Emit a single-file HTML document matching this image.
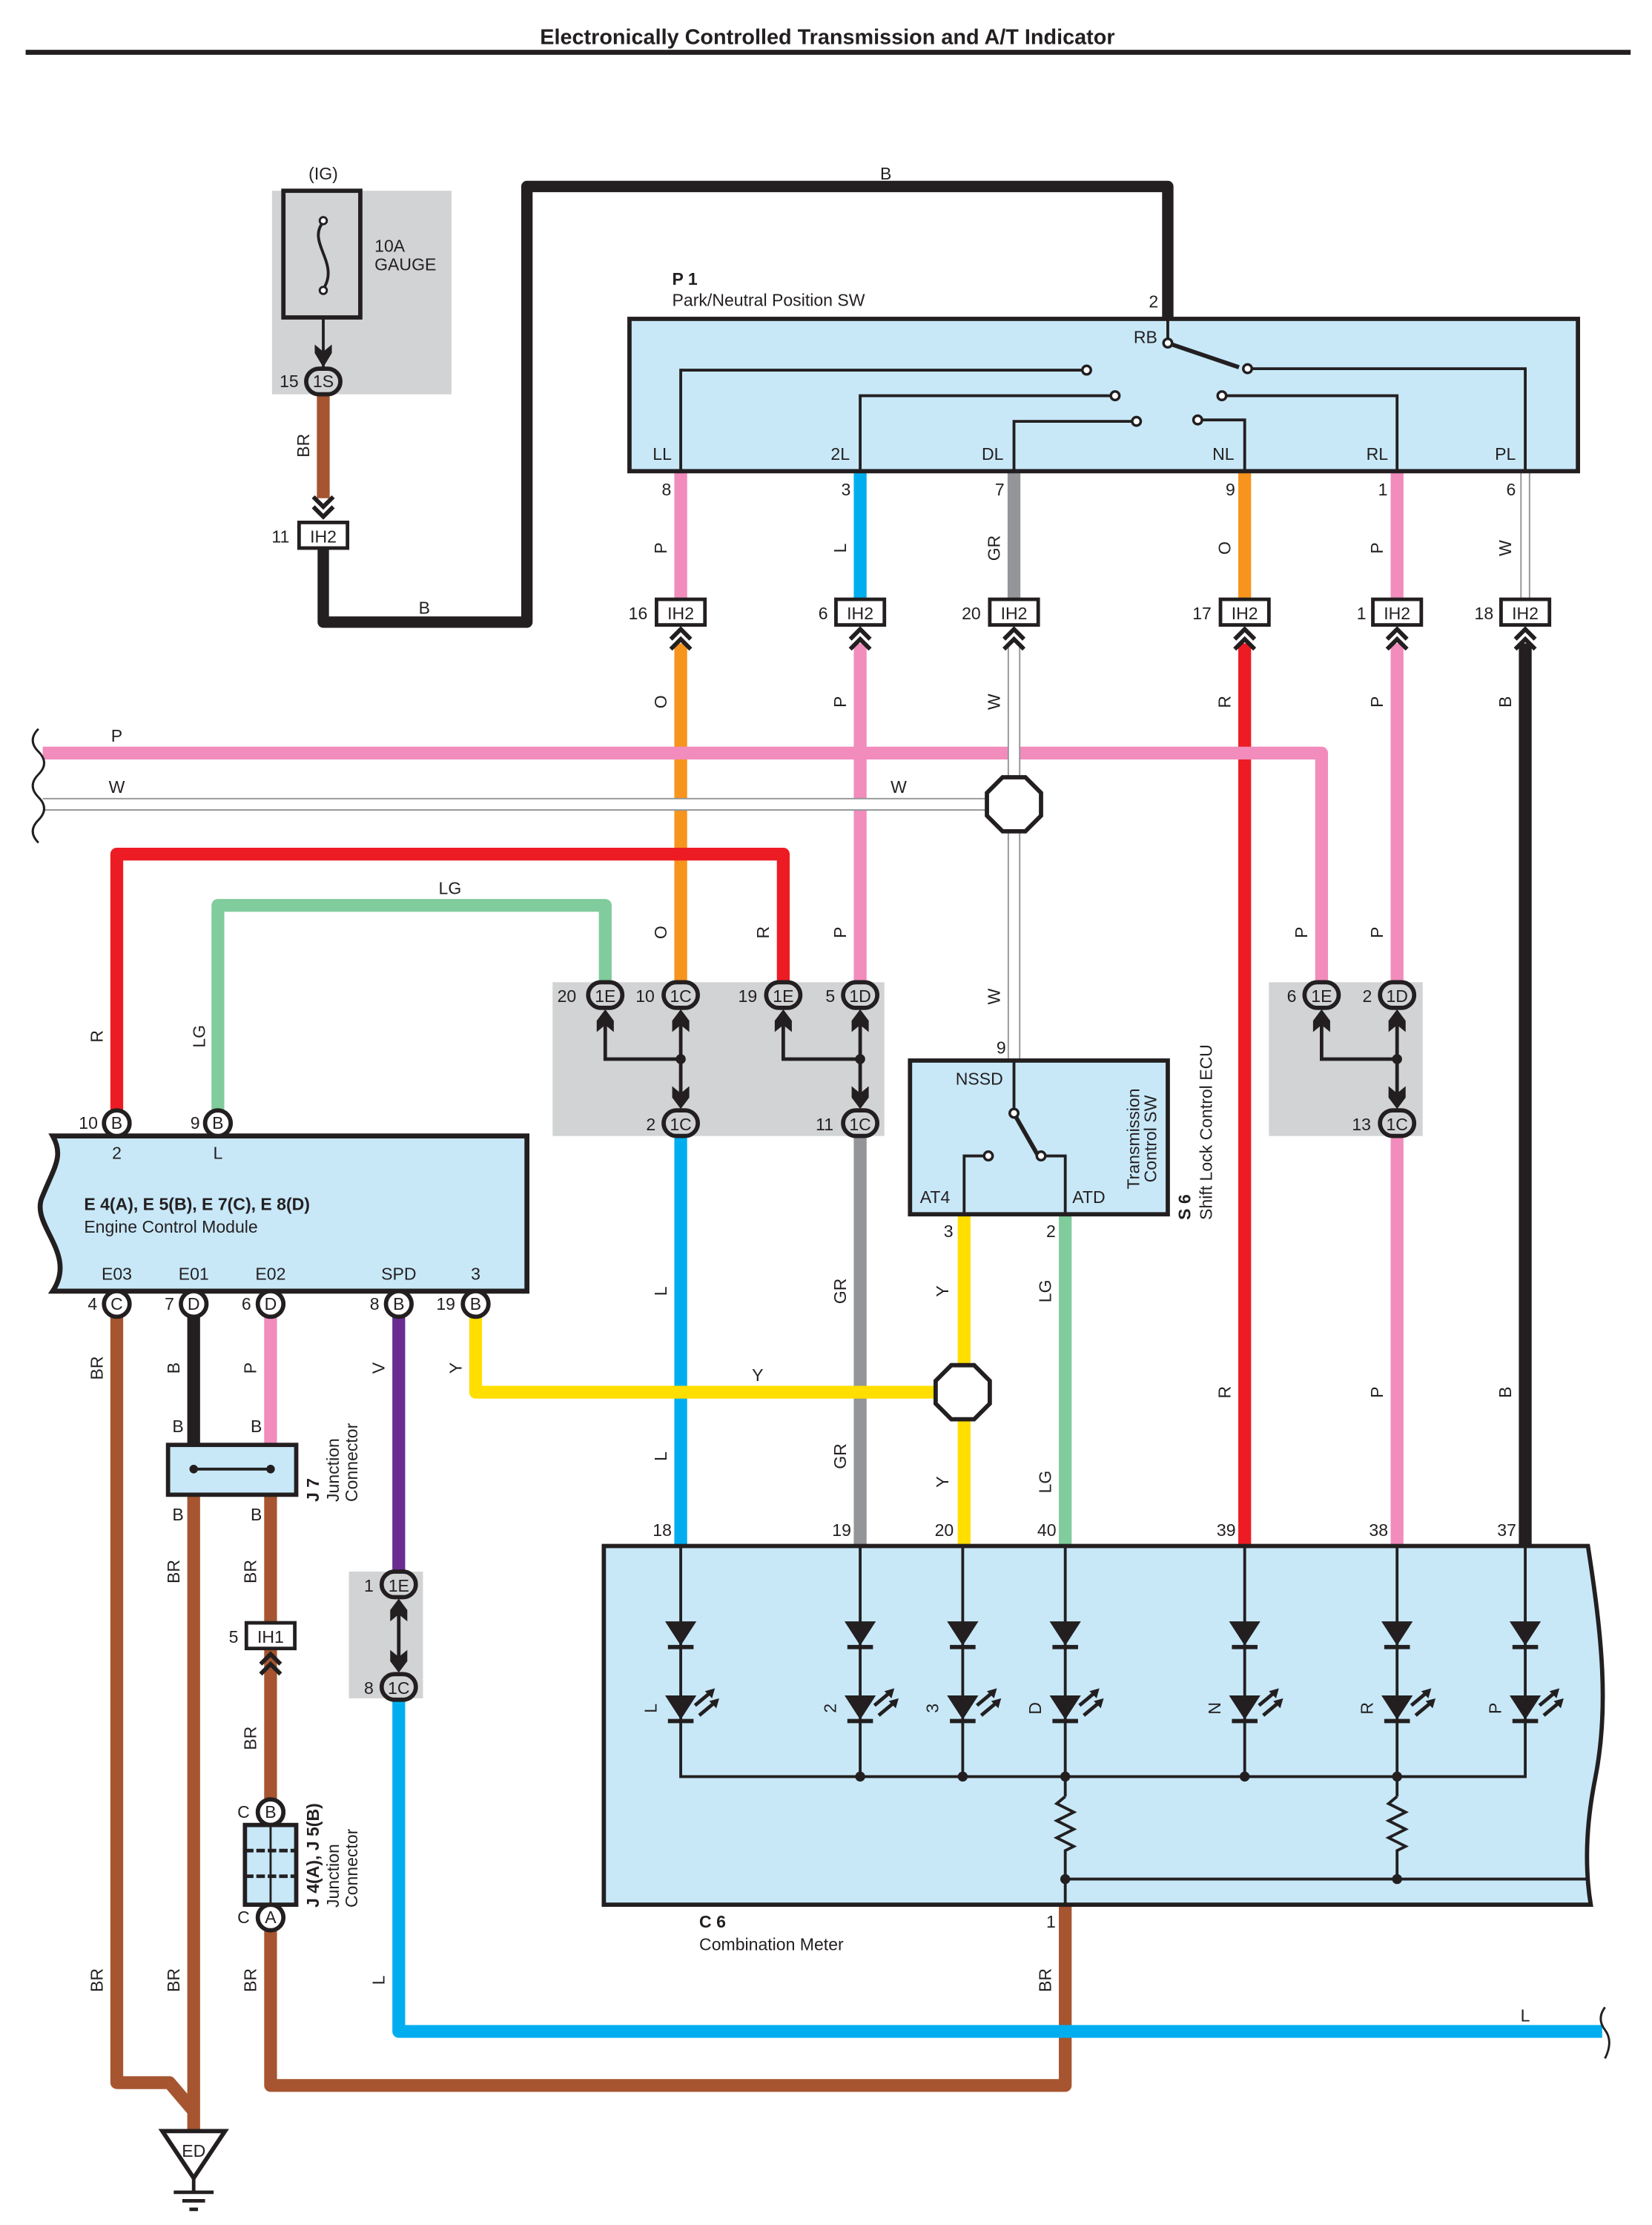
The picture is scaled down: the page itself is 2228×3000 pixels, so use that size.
<!DOCTYPE html>
<html><head><meta charset="utf-8">
<style>
html,body{margin:0;padding:0;background:#fff;}
svg{display:block;}
text{font-family:"Liberation Sans",Arial,sans-serif;fill:#231f20;}
</style></head><body>
<svg xmlns="http://www.w3.org/2000/svg" width="2228" height="3000" viewBox="0 0 1160 1563" preserveAspectRatio="none">
<defs>
<g id="diode"><polygon points="-11,-9 11,-9 0,8" fill="#231f20"/><line x1="-9" y1="9" x2="9" y2="9" stroke="#231f20" stroke-width="3"/></g>
<g id="led"><polygon points="-11,-9 11,-9 0,8" fill="#231f20"/><line x1="-9" y1="9" x2="9" y2="9" stroke="#231f20" stroke-width="3"/>
<path d="M10,-2 L22,-12 M13,5 L25,-5" stroke="#231f20" stroke-width="2.5"/><polygon points="24,-14 17,-12 22,-7" fill="#231f20"/><polygon points="27,-7 20,-5 25,0" fill="#231f20"/></g>
<path id="chd" d="M-7,-16 L0,-9 L7,-16 M-7,-9 L0,-2 L7,-9" fill="none" stroke="#231f20" stroke-width="3"/>
<path id="chu" d="M-7,16 L0,9 L7,16 M-7,9 L0,2 L7,9" fill="none" stroke="#231f20" stroke-width="3"/>
<polygon id="ahu" points="0,0 -6,8 -6,16 0,11 6,16 6,8" fill="#231f20"/>
<polygon id="ahd" points="0,0 -6,-8 -6,-16 0,-11 6,-16 6,-8" fill="#231f20"/>
</defs>

<!-- title -->
<text x="581" y="31" text-anchor="middle" font-size="15" font-weight="bold">Electronically Controlled Transmission and A/T Indicator</text>
<rect x="18" y="35" width="1127" height="3.5" fill="#231f20"/>

<!-- gray boxes -->
<rect x="191" y="134" width="126" height="143" fill="#d1d3d4"/>
<rect x="388" y="690" width="233" height="108" fill="#d1d3d4"/>
<rect x="891" y="690" width="108" height="108" fill="#d1d3d4"/>
<rect x="245" y="1104" width="52" height="89" fill="#d1d3d4"/>

<!-- fuse -->
<text x="227" y="126" text-anchor="middle" font-size="12">(IG)</text>
<rect x="199" y="134" width="54" height="89" fill="none" stroke="#231f20" stroke-width="3"/>
<path d="M227,156 C215,170 239,185 227,203" fill="none" stroke="#231f20" stroke-width="2"/>
<circle cx="227" cy="155" r="2.5" fill="#fff" stroke="#231f20" stroke-width="1.5"/>
<circle cx="227" cy="204" r="2.5" fill="#fff" stroke="#231f20" stroke-width="1.5"/>
<text x="263" y="177" font-size="12">10A</text><text x="263" y="190" font-size="12">GAUGE</text>
<line x1="227" y1="223" x2="227" y2="258" stroke="#231f20" stroke-width="2"/>
<polygon points="227,258 221,248 221,242 227,247 233,242 233,248" fill="#231f20"/>

<!-- wires -->
<g fill="none" stroke-linejoin="round" stroke-width="9">
<path d="M227,277 V350" stroke="#a65530"/>
<path d="M227,386 V437 H370 V131 H820 V224" stroke="#231f20" stroke-width="8"/>
<path d="M478,331 V420" stroke="#f18cbc"/>
<path d="M604,331 V420" stroke="#00aeef"/>
<path d="M712,331 V420" stroke="#939598"/>
<path d="M874,331 V420" stroke="#f7941d"/>
<path d="M981,331 V420" stroke="#f18cbc"/>
<path d="M478,452 V690" stroke="#f7941d"/>
<path d="M604,452 V690" stroke="#f18cbc"/>
<path d="M874,452 V1086" stroke="#ed1c24"/>
<path d="M981,452 V690" stroke="#f18cbc"/>
<path d="M1071,452 V1086" stroke="#231f20"/>
<path d="M30,529 H928 V690" stroke="#f18cbc"/>
<path d="M82,780 V600 H550 V690" stroke="#ed1c24"/>
<path d="M153,780 V636 H425 V690" stroke="#80cc9c"/>
<path d="M478,798 V1086" stroke="#00aeef"/>
<path d="M604,798 V1086" stroke="#939598"/>
<path d="M981,798 V1086" stroke="#f18cbc"/>
<path d="M334,925 V978 H660" stroke="#ffde00"/>
<path d="M677,853 V960 M677,996 V1086" stroke="#ffde00"/>
<path d="M748,853 V1086" stroke="#80cc9c"/>
<path d="M82,925 V1463 H119 L136,1483" stroke="#a65530"/>
<path d="M136,925 V1017" stroke="#231f20"/>
<path d="M136,1050 V1497" stroke="#a65530"/>
<path d="M190,925 V1015" stroke="#f18cbc"/>
<path d="M190,1050 V1140 M190,1158 V1264" stroke="#a65530"/>
<path d="M190,1356 V1465 H748 V1338" stroke="#a65530"/>
<path d="M280,925 V1104" stroke="#6a2c91"/>
<path d="M280,1193 V1427 H1125" stroke="#00aeef"/>
</g>
<!-- white wires -->
<g fill="none">
<path d="M1071,331 V420" stroke="#939598" stroke-width="7"/><path d="M1071,331 V420" stroke="#fff" stroke-width="5"/>
<path d="M30,565 H693" stroke="#939598" stroke-width="9"/><path d="M30,565 H693" stroke="#fff" stroke-width="7"/>
<path d="M712,452 V745" stroke="#939598" stroke-width="9"/><path d="M712,452 V745" stroke="#fff" stroke-width="7"/>
</g>
<!-- wavy ends -->
<path d="M30,512 q-8,8 0,16 q8,8 0,16 q-8,8 0,16 q8,8 0,16 q-8,8 0,16" fill="none" stroke="#231f20" stroke-width="1.5" transform="translate(-3,0)"/>
<path d="M1127,1410 q-6,8 0,16 q6,8 0,20" fill="none" stroke="#231f20" stroke-width="1.5"/>

<!-- octagons -->
<polygon points="704,546 720,546 731,557 731,573 720,584 704,584 693,573 693,557" fill="#fff" stroke="#231f20" stroke-width="3"/>
<polygon points="668,959 684,959 695,970 695,986 684,997 668,997 657,986 657,970" fill="#fff" stroke="#231f20" stroke-width="3"/>

<!-- P1 box -->
<rect x="442" y="224" width="666" height="107" fill="#c8e8f8" stroke="#231f20" stroke-width="3"/>
<text x="472" y="200" font-size="12" font-weight="bold">P 1</text>
<text x="472" y="215" font-size="12">Park/Neutral Position SW</text>
<text x="810" y="216" font-size="12" text-anchor="middle">2</text>
<text x="796" y="241" font-size="12">RB</text>
<g fill="none" stroke="#231f20" stroke-width="2">
<path d="M820,224 V240"/><path d="M820,241 L870,258" stroke-width="3"/>
<path d="M478,331 V260 H760"/><path d="M879,259 H1071 V331"/>
<path d="M604,331 V278 H780"/><path d="M861,278 H981 V331"/>
<path d="M712,331 V296 H795"/><path d="M844,295 H874 V331"/>
</g>
<g fill="#fff" stroke="#231f20" stroke-width="1.8">
<circle cx="820" cy="241" r="3"/><circle cx="763" cy="260" r="3"/><circle cx="876" cy="259" r="3"/>
<circle cx="783" cy="278" r="3"/><circle cx="858" cy="278" r="3"/><circle cx="798" cy="296" r="3"/><circle cx="841" cy="295" r="3"/>
</g>
<g font-size="12" text-anchor="middle">
<text x="465" y="323">LL</text><text x="590" y="323">2L</text><text x="697" y="323">DL</text>
<text x="859" y="323">NL</text><text x="967" y="323">RL</text><text x="1057" y="323">PL</text>
<text x="468" y="348">8</text><text x="594" y="348">3</text><text x="702" y="348">7</text>
<text x="864" y="348">9</text><text x="971" y="348">1</text><text x="1061" y="348">6</text>
</g>

<!-- IH2 connectors row -->
<g font-size="12" text-anchor="middle">
<g stroke="#231f20" stroke-width="2.5" fill="#fff">
<rect x="461" y="421" width="34" height="18"/><rect x="587" y="421" width="34" height="18"/><rect x="695" y="421" width="34" height="18"/>
<rect x="857" y="421" width="34" height="18"/><rect x="964" y="421" width="34" height="18"/><rect x="1054" y="421" width="34" height="18"/>
<rect x="210" y="367" width="34" height="18"/>
</g>
<text x="478" y="435">IH2</text><text x="604" y="435">IH2</text><text x="712" y="435">IH2</text>
<text x="874" y="435">IH2</text><text x="981" y="435">IH2</text><text x="1071" y="435">IH2</text><text x="227" y="381">IH2</text>
<text x="448" y="435">16</text><text x="578" y="435">6</text><text x="682" y="435">20</text>
<text x="844" y="435">17</text><text x="956" y="435">1</text><text x="1042" y="435">18</text><text x="197" y="381">11</text>
</g>
<g>
<use href="#chu" x="478" y="440"/><use href="#chu" x="604" y="440"/><use href="#chu" x="712" y="440"/>
<use href="#chu" x="874" y="440"/><use href="#chu" x="981" y="440"/><use href="#chu" x="1071" y="440"/>
<use href="#chd" x="227" y="365"/><use href="#chu" x="190" y="1160"/>
</g>

<!-- oval connectors -->
<g stroke="#231f20" stroke-width="3">
<rect x="215" y="259" width="24" height="18" rx="9" fill="#d1d3d4"/>
<rect x="413" y="690" width="24" height="18" rx="9" fill="#d1d3d4"/>
<rect x="466" y="690" width="24" height="18" rx="9" fill="#d1d3d4"/>
<rect x="538" y="690" width="24" height="18" rx="9" fill="#d1d3d4"/>
<rect x="592" y="690" width="24" height="18" rx="9" fill="#d1d3d4"/>
<rect x="466" y="780" width="24" height="18" rx="9" fill="#d1d3d4"/>
<rect x="592" y="780" width="24" height="18" rx="9" fill="#d1d3d4"/>
<rect x="916" y="690" width="24" height="18" rx="9" fill="#d1d3d4"/>
<rect x="969" y="690" width="24" height="18" rx="9" fill="#d1d3d4"/>
<rect x="969" y="780" width="24" height="18" rx="9" fill="#d1d3d4"/>
<rect x="268" y="1104" width="24" height="18" rx="9" fill="#d1d3d4"/>
<rect x="268" y="1176" width="24" height="18" rx="9" fill="#d1d3d4"/>
</g>
<g font-size="12" text-anchor="middle">
<text x="227" y="272">1S</text><text x="203" y="272">15</text>
<text x="425" y="704">1E</text><text x="398" y="704">20</text>
<text x="478" y="704">1C</text><text x="453" y="704">10</text>
<text x="550" y="704">1E</text><text x="525" y="704">19</text>
<text x="604" y="704">1D</text><text x="583" y="704">5</text>
<text x="478" y="794">1C</text><text x="457" y="794">2</text>
<text x="604" y="794">1C</text><text x="579" y="794">11</text>
<text x="928" y="704">1E</text><text x="907" y="704">6</text>
<text x="981" y="704">1D</text><text x="960" y="704">2</text>
<text x="981" y="794">1C</text><text x="956" y="794">13</text>
<text x="280" y="1118">1E</text><text x="259" y="1118">1</text>
<text x="280" y="1190">1C</text><text x="259" y="1190">8</text>
</g>
<!-- junction internals -->
<g fill="none" stroke="#231f20" stroke-width="2.5">
<path d="M425,712 V744 H478"/><path d="M478,712 V776"/>
<path d="M550,712 V744 H604"/><path d="M604,712 V776"/>
<path d="M928,712 V744 H981"/><path d="M981,712 V776"/>
<path d="M280,1126 V1170"/>
</g>
<g fill="#231f20"><circle cx="478" cy="744" r="3.5"/><circle cx="604" cy="744" r="3.5"/><circle cx="981" cy="744" r="3.5"/></g>
<use href="#ahu" x="425" y="709"/><use href="#ahu" x="478" y="709"/><use href="#ahu" x="550" y="709"/><use href="#ahu" x="604" y="709"/>
<use href="#ahu" x="928" y="709"/><use href="#ahu" x="981" y="709"/>
<use href="#ahd" x="478" y="779"/><use href="#ahd" x="604" y="779"/><use href="#ahd" x="981" y="779"/>
<use href="#ahu" x="280" y="1123"/><use href="#ahd" x="280" y="1175"/>

<!-- S6 -->
<rect x="639" y="745" width="181" height="108" fill="#c8e8f8" stroke="#231f20" stroke-width="3"/>
<text x="703" y="740" font-size="12" text-anchor="middle">9</text>
<text x="671" y="762" font-size="12">NSSD</text>
<text x="646" y="845" font-size="12">AT4</text><text x="753" y="845" font-size="12">ATD</text>
<g fill="none" stroke="#231f20" stroke-width="2">
<path d="M712,745 V779"/><path d="M713,784 L729,812" stroke-width="3"/>
<path d="M733,812 H748 V853"/><path d="M691,812 H677 V853"/>
</g>
<g fill="#fff" stroke="#231f20" stroke-width="1.8"><circle cx="712" cy="782" r="3"/><circle cx="731" cy="812" r="3"/><circle cx="694" cy="812" r="3"/></g>
<text transform="translate(800,800) rotate(-90)" font-size="12" text-anchor="middle">Transmission</text>
<text transform="translate(812,800) rotate(-90)" font-size="12" text-anchor="middle">Control SW</text>
<text transform="translate(836,857) rotate(-90)" font-size="12" font-weight="bold">S 6</text>
<text transform="translate(851,857) rotate(-90)" font-size="12">Shift Lock Control ECU</text>
<text x="666" y="869" font-size="12" text-anchor="middle">3</text><text x="738" y="869" font-size="12" text-anchor="middle">2</text>

<!-- ECM -->
<path d="M37,798 H370 V907 H37 C55,880 20,860 30,840 C38,820 45,812 37,798 Z" fill="#c8e8f8" stroke="#231f20" stroke-width="3.5"/>
<g font-size="12" text-anchor="middle">
<text x="82" y="814">2</text><text x="153" y="814">L</text>
<text x="82" y="899">E03</text><text x="136" y="899">E01</text><text x="190" y="899">E02</text><text x="280" y="899">SPD</text><text x="334" y="899">3</text>
</g>
<text x="59" y="850" font-size="12" font-weight="bold">E 4(A), E 5(B), E 7(C), E 8(D)</text>
<text x="59" y="866" font-size="12">Engine Control Module</text>
<g stroke="#231f20" stroke-width="3" fill="#fff">
<circle cx="82" cy="789" r="9"/><circle cx="153" cy="789" r="9"/>
<circle cx="82" cy="916" r="9"/><circle cx="136" cy="916" r="9"/><circle cx="190" cy="916" r="9"/><circle cx="280" cy="916" r="9"/><circle cx="334" cy="916" r="9"/>
<circle cx="190" cy="1273" r="9"/><circle cx="190" cy="1347" r="9"/>
</g>
<g font-size="12" text-anchor="middle">
<text x="82" y="793">B</text><text x="153" y="793">B</text><text x="62" y="793">10</text><text x="137" y="793">9</text>
<text x="82" y="920">C</text><text x="136" y="920">D</text><text x="190" y="920">D</text><text x="280" y="920">B</text><text x="334" y="920">B</text>
<text x="65" y="920">4</text><text x="119" y="920">7</text><text x="173" y="920">6</text><text x="263" y="920">8</text><text x="313" y="920">19</text>
<text x="190" y="1277">B</text><text x="190" y="1351">A</text><text x="171" y="1277">C</text><text x="171" y="1351">C</text>
</g>

<!-- J7 -->
<rect x="118" y="1015" width="90" height="35" fill="#c8e8f8" stroke="#231f20" stroke-width="3"/>
<path d="M136,1032 H190" stroke="#231f20" stroke-width="2"/>
<circle cx="136" cy="1032" r="3" fill="#231f20"/><circle cx="190" cy="1032" r="3" fill="#231f20"/>
<g font-size="12" text-anchor="middle"><text x="125" y="1006">B</text><text x="180" y="1006">B</text><text x="125" y="1068">B</text><text x="180" y="1068">B</text></g>
<text transform="translate(224,1055) rotate(-90)" font-size="12" font-weight="bold">J 7</text>
<text transform="translate(238,1055) rotate(-90)" font-size="12">Junction</text>
<text transform="translate(251,1055) rotate(-90)" font-size="12">Connector</text>

<!-- IH1 -->
<rect x="173" y="1140" width="34" height="18" fill="#fff" stroke="#231f20" stroke-width="2.5"/>
<text x="190" y="1154" font-size="12" text-anchor="middle">IH1</text><text x="164" y="1154" font-size="12" text-anchor="middle">5</text>

<!-- J4/J5 -->
<rect x="172" y="1282" width="36" height="56" fill="#c8e8f8" stroke="#231f20" stroke-width="3"/>
<path d="M190,1282 V1338" stroke="#231f20" stroke-width="1.5"/>
<path d="M172,1300 H208 M172,1318 H208" stroke="#231f20" stroke-width="2.5" stroke-dasharray="6,2"/>
<text transform="translate(224,1340) rotate(-90)" font-size="12" font-weight="bold">J 4(A), J 5(B)</text>
<text transform="translate(238,1340) rotate(-90)" font-size="12">Junction</text>
<text transform="translate(251,1340) rotate(-90)" font-size="12">Connector</text>

<!-- ground -->
<polygon points="114,1497 158,1497 136,1530" fill="#fff" stroke="#231f20" stroke-width="3"/>
<text x="136" y="1515" font-size="12" text-anchor="middle">ED</text>
<path d="M136,1530 V1540 M122,1540 H150 M128,1546 H144 M133,1552 H139" stroke="#231f20" stroke-width="2.5"/>

<!-- C6 -->
<path d="M424,1086 H1115 C1125,1150 1130,1200 1120,1250 C1112,1290 1114,1320 1117,1338 H424 Z" fill="#c8e8f8" stroke="#231f20" stroke-width="3"/>
<g font-size="12" text-anchor="middle">
<text x="465" y="1079">18</text><text x="591" y="1079">19</text><text x="663" y="1079">20</text><text x="735" y="1079">40</text>
<text x="861" y="1079">39</text><text x="968" y="1079">38</text><text x="1058" y="1079">37</text>
<text x="738" y="1354">1</text>
</g>
<text x="491" y="1354" font-size="12" font-weight="bold">C 6</text>
<text x="491" y="1370" font-size="12">Combination Meter</text>
<g fill="none" stroke="#231f20" stroke-width="2">
<path d="M478,1086 V1248 H1071 V1086"/>
<path d="M604,1086 V1248 M676,1086 V1248 M748,1086 V1262 M874,1086 V1248 M981,1086 V1262"/>
<path d="M748,1262 l-6,5 l12,6 l-12,6 l12,6 l-12,6 l12,6 l-6,3 V1338"/>
<path d="M981,1262 l-6,5 l12,6 l-12,6 l12,6 l-12,6 l12,6 l-6,3 V1320"/>
<path d="M748,1320 H1115"/>
</g>
<g fill="#231f20"><circle cx="604" cy="1248" r="3.5"/><circle cx="676" cy="1248" r="3.5"/><circle cx="748" cy="1248" r="3.5"/><circle cx="874" cy="1248" r="3.5"/><circle cx="981" cy="1248" r="3.5"/><circle cx="748" cy="1320" r="3.5"/><circle cx="981" cy="1320" r="3.5"/></g>
<g>
<use href="#diode" x="478" y="1148"/><use href="#diode" x="604" y="1148"/><use href="#diode" x="676" y="1148"/><use href="#diode" x="748" y="1148"/>
<use href="#diode" x="874" y="1148"/><use href="#diode" x="981" y="1148"/><use href="#diode" x="1071" y="1148"/>
<use href="#led" x="478" y="1200"/><use href="#led" x="604" y="1200"/><use href="#led" x="676" y="1200"/><use href="#led" x="748" y="1200"/>
<use href="#led" x="874" y="1200"/><use href="#led" x="981" y="1200"/><use href="#led" x="1071" y="1200"/>
</g>
<g font-size="12" text-anchor="middle">
<text transform="translate(461,1200) rotate(-90)">L</text><text transform="translate(587,1200) rotate(-90)">2</text>
<text transform="translate(659,1200) rotate(-90)">3</text><text transform="translate(731,1200) rotate(-90)">D</text>
<text transform="translate(857,1200) rotate(-90)">N</text><text transform="translate(964,1200) rotate(-90)">R</text>
<text transform="translate(1054,1200) rotate(-90)">P</text>
</g>

<!-- wire color labels -->
<g font-size="12" text-anchor="middle">
<text x="622" y="126">B</text><text x="298" y="431">B</text>
<text x="82" y="521">P</text><text x="82" y="557">W</text><text x="631" y="557">W</text>
<text x="316" y="628">LG</text><text x="532" y="970">Y</text><text x="1071" y="1420">L</text>
<text transform="translate(217,313) rotate(-90)">BR</text>
<text transform="translate(468,385) rotate(-90)">P</text><text transform="translate(594,385) rotate(-90)">L</text>
<text transform="translate(702,385) rotate(-90)">GR</text><text transform="translate(864,385) rotate(-90)">O</text>
<text transform="translate(971,385) rotate(-90)">P</text><text transform="translate(1061,385) rotate(-90)">W</text>
<text transform="translate(468,493) rotate(-90)">O</text><text transform="translate(594,493) rotate(-90)">P</text>
<text transform="translate(702,493) rotate(-90)">W</text><text transform="translate(864,493) rotate(-90)">R</text>
<text transform="translate(971,493) rotate(-90)">P</text><text transform="translate(1061,493) rotate(-90)">B</text>
<text transform="translate(468,655) rotate(-90)">O</text><text transform="translate(540,655) rotate(-90)">R</text>
<text transform="translate(594,655) rotate(-90)">P</text><text transform="translate(918,655) rotate(-90)">P</text>
<text transform="translate(971,655) rotate(-90)">P</text><text transform="translate(702,700) rotate(-90)">W</text>
<text transform="translate(72,728) rotate(-90)">R</text><text transform="translate(144,728) rotate(-90)">LG</text>
<text transform="translate(468,907) rotate(-90)">L</text><text transform="translate(594,907) rotate(-90)">GR</text>
<text transform="translate(666,907) rotate(-90)">Y</text><text transform="translate(738,907) rotate(-90)">LG</text>
<text transform="translate(864,978) rotate(-90)">R</text><text transform="translate(971,978) rotate(-90)">P</text>
<text transform="translate(1061,978) rotate(-90)">B</text>
<text transform="translate(468,1023) rotate(-90)">L</text><text transform="translate(594,1023) rotate(-90)">GR</text>
<text transform="translate(666,1041) rotate(-90)">Y</text><text transform="translate(738,1041) rotate(-90)">LG</text>
<text transform="translate(72,961) rotate(-90)">BR</text><text transform="translate(126,961) rotate(-90)">B</text>
<text transform="translate(180,961) rotate(-90)">P</text><text transform="translate(270,961) rotate(-90)">V</text>
<text transform="translate(324,961) rotate(-90)">Y</text>
<text transform="translate(126,1104) rotate(-90)">BR</text><text transform="translate(180,1104) rotate(-90)">BR</text>
<text transform="translate(180,1221) rotate(-90)">BR</text>
<text transform="translate(72,1391) rotate(-90)">BR</text><text transform="translate(126,1391) rotate(-90)">BR</text>
<text transform="translate(180,1391) rotate(-90)">BR</text><text transform="translate(270,1391) rotate(-90)">L</text>
<text transform="translate(738,1391) rotate(-90)">BR</text>
</g>
</svg>
</body></html>
